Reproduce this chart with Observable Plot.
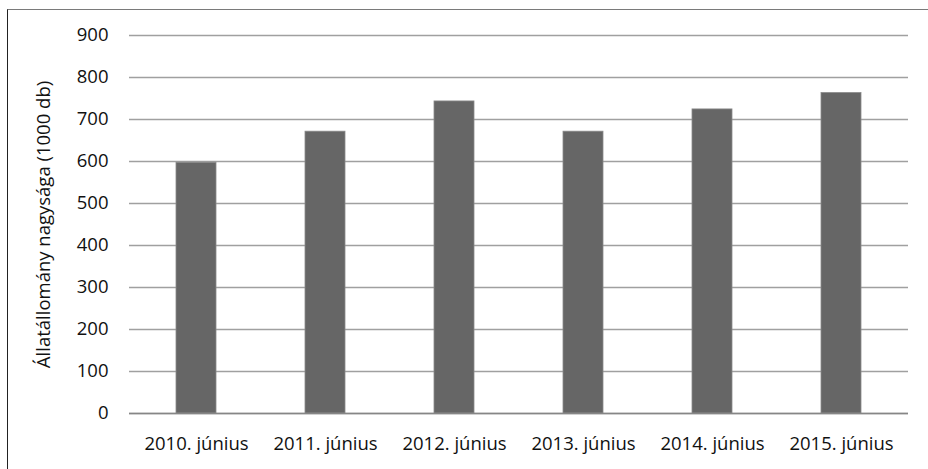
<!DOCTYPE html>
<html>
<head>
<meta charset="utf-8">
<script src="https://cdn.jsdelivr.net/npm/d3@7"></script>
<script src="https://cdn.jsdelivr.net/npm/@observablehq/plot@0.6"></script>
<style>
  html, body { margin: 0; padding: 0; background: #fff; }
  #wrap { position: relative; width: 928px; height: 469px; overflow: hidden; }
  #frame { position: absolute; left: 7px; top: 9px; width: 940px; height: 480px;
           border-top: 1.5px solid #7a7a7a; border-left: 1.5px solid #222; pointer-events: none; }
  svg { display: block; }
</style>
</head>
<body>
<div id="wrap"><div id="frame"></div></div>
<script>
const categories = ["2010. június", "2011. június", "2012. június", "2013. június", "2014. június", "2015. június"];
const values = [597, 671, 743, 671, 724, 763];
const yTicks = [0, 100, 200, 300, 400, 500, 600, 700, 800, 900];
const yTitle = "Állatállomány nagysága (1000 db)";

const data = categories.map((c, i) => ({category: c, value: values[i]}));

const chart = Plot.plot({
  width: 928,
  height: 469,
  marginLeft: 129,
  marginRight: 20,
  marginTop: 35,
  marginBottom: 56,
  style: {fontFamily: "'Open Sans', sans-serif", fontSize: "18.5px", color: "#111", background: "transparent"},
  x: {domain: categories, paddingInner: 0.69, paddingOuter: 0.345, label: null},
  y: {domain: [0, 900], label: null},
  marks: [
    Plot.gridY(yTicks, {stroke: "#a0a0a0", strokeOpacity: 1, strokeWidth: 1.5}),
    Plot.barY(data, {x: "category", y: "value", fill: "#666666", stroke: "#8a8a8a", strokeWidth: 0.8}),
    Plot.ruleY([0], {stroke: "#868686", strokeWidth: 1.5}),
    Plot.ruleX([0], {frameAnchor: "left", stroke: "#868686", strokeWidth: 1.5}),
    Plot.axisY(yTicks, {tickSize: 0, tickPadding: 21, label: null, fill: "#111"}),
    Plot.axisX({tickSize: 0, tickPadding: 23, label: null, fill: "#111"}),
    Plot.text([yTitle], {frameAnchor: "left", dx: -85, rotate: -90, textAnchor: "middle", lineAnchor: "middle", fill: "#111", fontSize: 18.5})
  ]
});
document.getElementById("wrap").prepend(chart);
</script>
</body>
</html>
